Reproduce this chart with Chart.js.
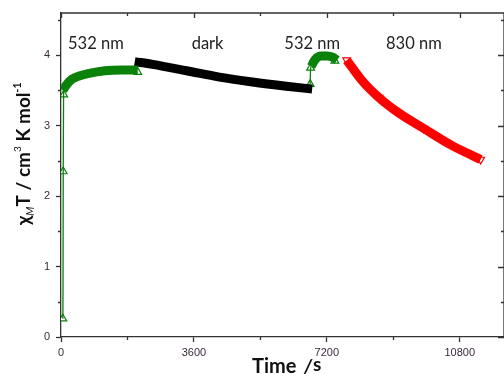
<!DOCTYPE html>
<html>
<head>
<meta charset="utf-8">
<script src="https://cdn.jsdelivr.net/npm/chart.js@4"></script>
<style>
html,body{margin:0;padding:0;background:#fff;}
canvas{display:block;}
</style>
</head>
<body>
<canvas id="c" width="504" height="374"></canvas>
<script>
// ---- data ----
const xTicks = [0, 3600, 7200, 10800];
const xMinorTicks = [1800, 5400, 9000];
const yTicks = [0, 1, 2, 3, 4];
const yMinorTicks = [0.5, 1.5, 2.5, 3.5, 4.5];

// 532 nm irradiation, first part: fast rise (thin line) then plateau (thick band)
const riseTime1 = [50, 55, 60, 70, 80];
const riseVal1  = [0.26, 0.70, 2.35, 3.44, 3.50];
const green1Time = [54, 135, 297, 513, 729, 1188, 1647, 2079];
const green1Val  = [3.50, 3.57, 3.66, 3.71, 3.74, 3.78, 3.79, 3.79];
const green1MarkTime = [50, 60, 75, 2079];
const green1MarkVal  = [0.26, 2.35, 3.44, 3.76];

// dark relaxation
const darkTime = [1998, 2484, 3402, 4293, 5184, 6102, 6804];
const darkVal  = [3.91, 3.87, 3.78, 3.69, 3.62, 3.56, 3.52];

// 532 nm irradiation, second part
const riseTime2 = [6750, 6760, 6777];
const riseVal2  = [3.59, 3.80, 3.84];
const green2Time = [6777, 6885, 7047, 7209, 7371, 7479];
const green2Val  = [3.84, 3.94, 3.99, 3.99, 3.97, 3.93];
const green2MarkTime = [6750, 6760, 7420];
const green2MarkVal  = [3.59, 3.82, 3.92];

// 830 nm irradiation
const redTime = [7741, 8154, 8613, 9153, 9828, 10584, 11367];
const redVal  = [3.93, 3.64, 3.40, 3.18, 2.96, 2.72, 2.52];
const redMarkTime = [7741, 8613, 9828, 11367];
const redMarkVal  = [3.93, 3.40, 2.96, 2.52];

const regionLabels = ['532 nm', 'dark', '532 nm', '830 nm'];
const regionLabelTime = [945, 3970, 6804, 9558];
const regionLabelVal = [4.16, 4.16, 4.16, 4.16];

const zip = (t, v) => t.map((x, i) => ({x: x, y: v[i]}));

const GREEN = '#0a820a';
const RED = '#ff0000';
const AXIS = '#333333';

const frameTicks = {
  id: 'frameTicks',
  afterDraw(chart) {
    const ctx = chart.ctx;
    const a = chart.chartArea;
    const xs = chart.scales.x, ys = chart.scales.y;
    ctx.save();
    ctx.strokeStyle = AXIS;
    ctx.lineWidth = 1.3;
    ctx.beginPath();
    ctx.moveTo(a.left, a.top); ctx.lineTo(a.right, a.top);
    ctx.moveTo(a.right, a.top); ctx.lineTo(a.right, a.bottom);
    xMinorTicks.forEach(v => {
      const p = Math.round(xs.getPixelForValue(v)) + 0.5;
      ctx.moveTo(p, a.bottom); ctx.lineTo(p, a.bottom + 3);
      ctx.moveTo(p, a.top); ctx.lineTo(p, a.top + 3);
    });
    xTicks.forEach(v => {
      const p = Math.round(xs.getPixelForValue(v)) + 0.5;
      ctx.moveTo(p, a.top); ctx.lineTo(p, a.top + 5);
    });
    yMinorTicks.forEach(v => {
      const p = Math.round(ys.getPixelForValue(v)) + 0.5;
      ctx.moveTo(a.left, p); ctx.lineTo(a.left - 3, p);
      ctx.moveTo(a.right, p); ctx.lineTo(a.right - 3, p);
    });
    yTicks.forEach(v => {
      const p = Math.round(ys.getPixelForValue(v)) + 0.5;
      ctx.moveTo(a.right, p); ctx.lineTo(a.right - 6, p);
    });
    ctx.stroke();

    // region labels
    ctx.fillStyle = '#222';
    ctx.font = '16.5px Lato';
    ctx.textAlign = 'center';
    ctx.textBaseline = 'middle';
    regionLabels.forEach((s, i) => {
      ctx.fillText(s, xs.getPixelForValue(regionLabelTime[i]), ys.getPixelForValue(regionLabelVal[i]));
    });

    // x title
    ctx.textAlign = 'left';
    ctx.textBaseline = 'alphabetic';
    ctx.fillStyle = '#111';
    ctx.font = 'bold 20px Lato';
    ctx.fillText('Time', 252, 373);
    ctx.font = 'italic bold 19px Lato';
    ctx.fillText('/', 304, 373);
    ctx.font = 'bold 19px Lato';
    ctx.fillText('s', 313, 371);

    // y title (rotated)
    ctx.translate(30, 225);
    ctx.rotate(-Math.PI / 2);
    let x = 0;
    const seg = (txt, font, dy) => {
      ctx.font = font;
      ctx.fillText(txt, x, dy);
      x += ctx.measureText(txt).width;
    };
    seg('\u03C7', 'bold 19px Lato', 0);
    seg('M', 'italic 10.5px Lato', 4);
    seg('T / cm', 'bold 19px Lato', 0);
    seg('3', '10px Lato', -9);
    seg(' K mol', 'bold 19px Lato', 0);
    seg('-1', 'bold 10.5px Lato', -9);
    ctx.restore();
  }
};

const lineDs = (data, color, width) => ({
  data: data, borderColor: color, backgroundColor: color, borderWidth: width,
  pointRadius: 0, showLine: true, fill: false, cubicInterpolationMode: 'monotone',
  borderCapStyle: 'butt', borderJoinStyle: 'round'
});
const markDs = (data, color, rot) => ({
  data: data, showLine: false, pointStyle: 'triangle', pointRotation: rot,
  pointRadius: 4.5, pointBorderWidth: 1.2, pointBorderColor: color,
  pointBackgroundColor: '#ffffff', borderColor: color, backgroundColor: '#fff'
});

new Chart(document.getElementById('c'), {
  type: 'scatter',
  data: {
    datasets: [
      lineDs(zip(riseTime1, riseVal1), GREEN, 1.3),
      lineDs(zip(green1Time, green1Val), GREEN, 9),
      lineDs(zip(darkTime, darkVal), '#000000', 9),
      lineDs(zip(riseTime2, riseVal2), GREEN, 1.3),
      lineDs(zip(green2Time, green2Val), GREEN, 9),
      lineDs(zip(redTime, redVal), RED, 9),
      markDs(zip(green1MarkTime, green1MarkVal), GREEN, 0),
      markDs(zip(green2MarkTime, green2MarkVal), GREEN, 0),
      markDs(zip(redMarkTime, redMarkVal), RED, 180)
    ]
  },
  options: {
    responsive: false,
    animation: false,
    layout: {autoPadding: false, padding: {top: 13, right: 0, left: 0, bottom: 0}},
    plugins: {legend: {display: false}, tooltip: {enabled: false}},
    scales: {
      x: {
        type: 'linear', min: 0, max: 12000,
        afterBuildTicks: s => { s.ticks = xTicks.map(v => ({value: v})); },
        afterFit: s => { s.height = 37; },
        grid: {drawOnChartArea: false, tickLength: 5, color: AXIS, tickWidth: 1.3},
        border: {color: AXIS, width: 1.3},
        ticks: {font: {family: 'Liberation Sans', size: 11}, color: '#3a2a3a', padding: 4, maxRotation: 0,
                callback: v => String(v)}
      },
      y: {
        type: 'linear', min: 0, max: 4.6,
        afterBuildTicks: s => { s.ticks = yTicks.map(v => ({value: v})); },
        afterFit: s => { s.width = 61; },
        grid: {drawOnChartArea: false, tickLength: 5, color: AXIS, tickWidth: 1.3},
        border: {color: AXIS, width: 1.3},
        ticks: {font: {family: 'Liberation Sans', size: 11}, color: '#3a2a3a', padding: 6,
                callback: v => String(v)}
      }
    }
  },
  plugins: [frameTicks]
});
</script>
</body>
</html>
